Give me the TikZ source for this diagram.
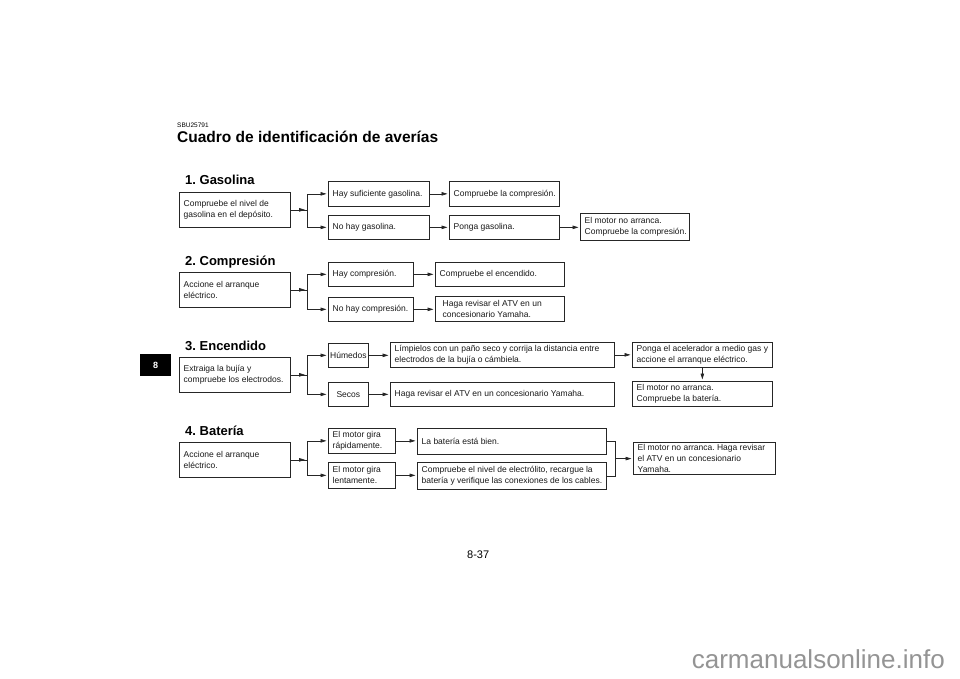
\documentclass[tikz,border=0pt]{standalone}
\usepackage{fontspec}
\setmainfont{Liberation Sans}
\usetikzlibrary{arrows.meta,decorations.markings,calc}
\frenchspacing
\newcommand\mybox[6]{%
  \node[box, minimum width=#4pt, minimum height=#5pt] (#1) at (#2,#3) {};
  \node[txt] (#1t) at ([xshift=4.5pt]#1.west) {#6};}
\begin{document}
\begin{tikzpicture}[x=1pt,y=-1pt,
  line/.style={draw=black!85, line width=0.7pt},
  box/.style={line, anchor=north west, inner sep=0pt},
  txt/.style={anchor=west, align=left, inner sep=0pt, text=black!90, font=\fontsize{8.5}{11}\selectfont},
  cbox/.style={line, anchor=north west, align=center, inner sep=0pt, text=black!90,
    font=\fontsize{8.5}{11}\selectfont},
  arr/.style={line, -{Triangle[length=6pt,width=3.5pt]}, shorten >=1.5pt},
  midarr/.style={postaction={decorate}, decoration={markings,
    mark=at position 0.85 with {\arrow{Triangle[length=6pt,width=3.5pt]}}}},
  head/.style={anchor=base west, inner sep=0pt, font=\bfseries\fontsize{13}{13}\selectfont}]
\useasboundingbox (0,0) rectangle (960,679);
\fill[white] (0,0) rectangle (960,679);

% header
\node[anchor=base west, inner sep=0pt, font=\fontsize{6.5}{6.5}\selectfont] (code) at (177,128) {SBU25791};
\node[anchor=base west, inner sep=0pt, font=\bfseries\fontsize{15.5}{15.5}\selectfont] (title) at (177,143) {Cuadro de identificación de averías};
\node[fill=black, text=white, font=\bfseries\fontsize{9}{9}\selectfont, minimum width=31pt, minimum height=22pt, inner sep=0pt, anchor=north west] (tab) at (140,354) {8};
\node[anchor=base west, inner sep=0pt, font=\fontsize{11}{11}\selectfont] (page) at (467,558) {8-37};
\node[anchor=base east, inner sep=0pt, text=black!42, font=\fontsize{26}{26}\selectfont] (wm) at (945,668) {carmanualsonline.info};

% 1. Gasolina
\node[head] (h1) at (185,185) {1. Gasolina};
\mybox{g0}{179}{192}{111}{35}{Compruebe el nivel de\\gasolina en el depósito.}
\mybox{g1}{328}{181}{101}{25}{Hay suficiente gasolina.}
\mybox{g2}{328}{215}{101}{24}{No hay gasolina.}
\mybox{g3}{449}{181}{110}{25}{Compruebe la compresión.}
\mybox{g4}{449}{215}{110}{24}{Ponga gasolina.}
\mybox{g5}{580}{213}{109}{27}{El motor no arranca.\\Compruebe la compresión.}
\path (g0.east) ++(17,0) coordinate (f1);
\draw[line, midarr] (g0.east) -- (f1);
\draw[arr] (f1) |- (g1.west);
\draw[arr] (f1) |- (g2.west);
\draw[arr] (g1.east) -- (g1.east -| g3.west);
\draw[arr] (g2.east) -- (g2.east -| g4.west);
\draw[arr] (g4.east) -- (g4.east -| g5.west);

% 2. Compresion
\node[head] (h2) at (185,265) {2. Compresión};
\mybox{c0}{179}{272}{111}{35}{Accione el arranque\\eléctrico.}
\mybox{c1}{328}{262}{85}{24}{Hay compresión.}
\mybox{c2}{328}{297}{85}{24}{No hay compresión.}
\mybox{c3}{435}{262}{129}{24}{Compruebe el encendido.}
\mybox{c4}{435}{296}{129}{25}{\hspace*{3pt}Haga revisar el ATV en un\\\hspace*{3pt}concesionario Yamaha.}
\path (c0.east) ++(17,0) coordinate (f2);
\draw[line, midarr] (c0.east) -- (f2);
\draw[arr] (f2) |- (c1.west);
\draw[arr] (f2) |- (c2.west);
\draw[arr] (c1.east) -- (c1.east -| c3.west);
\draw[arr] (c2.east) -- (c2.east -| c4.west);

% 3. Encendido
\node[head] (h3) at (185,350) {3. Encendido};
\mybox{e0}{179}{357}{111}{35}{Extraiga la bujía y\\compruebe los electrodos.}
\node[cbox, minimum width=40pt, minimum height=24pt] (e1) at (328,343) {Húmedos};
\node[cbox, minimum width=40pt, minimum height=24pt] (e2) at (328,382) {Secos};
\mybox{e3}{390}{342}{224}{25}{Límpielos con un paño seco y corrija la distancia entre\\electrodos de la bujía o cámbiela.}
\mybox{e4}{390}{382}{224}{24}{Haga revisar el ATV en un concesionario Yamaha.}
\mybox{e5}{632}{342}{140}{25}{Ponga el acelerador a medio gas y\\accione el arranque eléctrico.}
\mybox{e6}{632}{381}{140}{25}{El motor no arranca.\\Compruebe la batería.}
\path (e0.east) ++(17,0) coordinate (f3);
\draw[line, midarr] (e0.east) -- (f3);
\draw[arr] (f3) |- (e1.west);
\draw[arr] (f3) |- (e2.west);
\draw[arr] (e1.east) -- (e1.east -| e3.west);
\draw[arr] (e2.east) -- (e2.east -| e4.west);
\draw[arr] (e3.east) -- (e3.east -| e5.west);
\draw[arr] (e5.south) -- (e6.north);

% 4. Bateria
\node[head] (h4) at (185,435) {4. Batería};
\mybox{b0}{179}{442}{111}{35}{Accione el arranque\\eléctrico.}
\mybox{b1}{328}{428}{67}{25}{El motor gira\\rápidamente.}
\mybox{b2}{328}{462}{67}{26}{El motor gira\\lentamente.}
\mybox{b3}{417}{428}{189}{26}{La batería está bien.}
\mybox{b4}{417}{462}{189}{27}{Compruebe el nivel de electrólito, recargue la\\batería y verifique las conexiones de los cables.}
\mybox{b5}{633}{442}{142}{32}{\fontsize{8.5}{10.2}\selectfont El motor no arranca. Haga revisar\\el ATV en un concesionario\\Yamaha.}
\path (b0.east) ++(17,0) coordinate (f4);
\draw[line, midarr] (b0.east) -- (f4);
\draw[arr] (f4) |- (b1.west);
\draw[arr] (f4) |- (b2.west);
\draw[arr] (b1.east) -- (b1.east -| b3.west);
\draw[arr] (b2.east) -- (b2.east -| b4.west);
\coordinate (j) at ($(b3.east)!0.5!(b4.east)+(9,0)$);
\draw[line] (b3.east) -| (j);
\draw[line] (b4.east) -| (j);
\draw[arr] (j) -- (j -| b5.west);
\end{tikzpicture}
\end{document}
